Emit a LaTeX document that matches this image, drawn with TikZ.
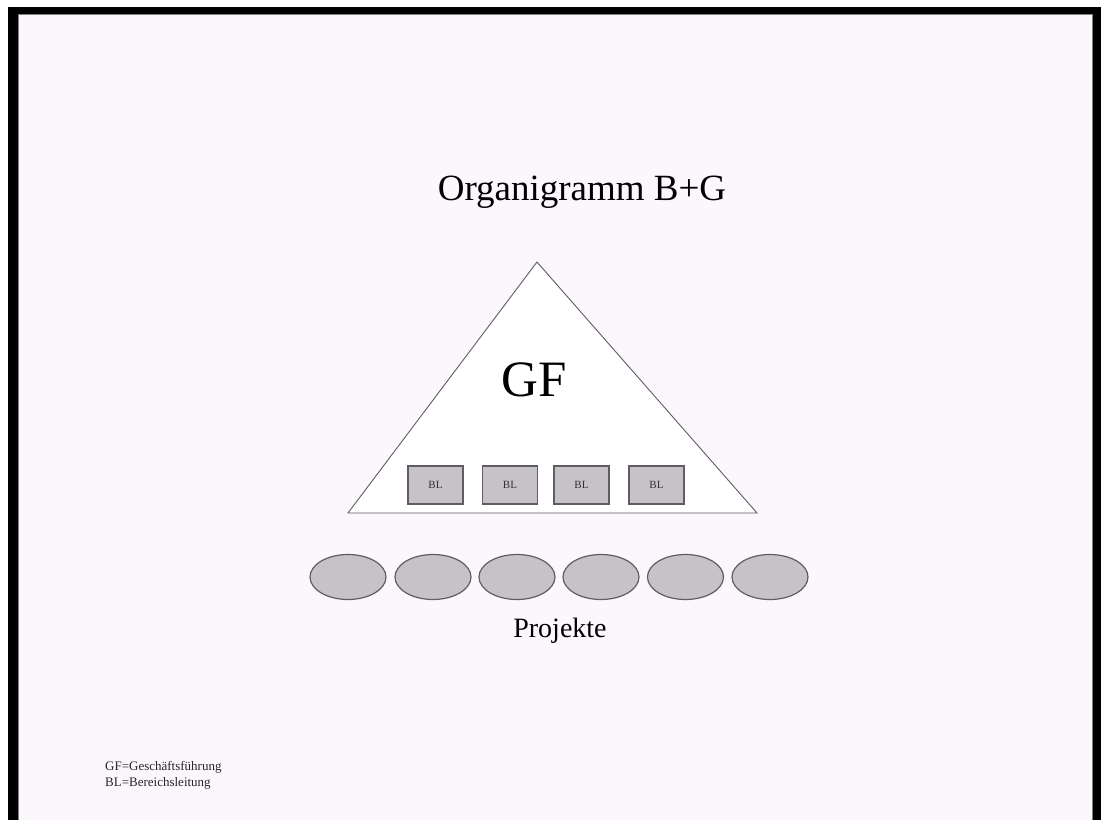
\documentclass[tikz,border=0pt]{standalone}
\usepackage{fontspec}
\setmainfont{Liberation Serif}
\usetikzlibrary{positioning, shapes.geometric}
\definecolor{slidepink}{RGB}{252,247,252}
\definecolor{boxgray}{RGB}{198,194,200}
\definecolor{edgegray}{RGB}{95,92,98}

\begin{document}
\begin{tikzpicture}[x=1pt, y=-1pt]
  \useasboundingbox (0,0) rectangle (1101,820);
  % Slide frame
  \fill[white] (0,0) rectangle (1101,820);
  \fill[black] (8,7) rectangle (1101,820);
  \fill[slidepink] (18,14) rectangle (1093,820);
  \draw[gray, line width=0.8pt] (18.5,820) -- (18.5,14.5) -- (1092.5,14.5) -- (1092.5,820);

  % Title
  \node[anchor=base, font=\fontsize{37}{44}\selectfont] (title) at (582,200) {Organigramm B+G};

  % Pyramid
  \coordinate (apex) at (537,262);
  \coordinate (baseL) at (348,513);
  \coordinate (baseR) at (757,513);
  \draw[edgegray, line width=0.9pt, fill=white] (apex) -- (baseR) -- (baseL) -- cycle;
  \node[anchor=base, font=\fontsize{51}{60}\selectfont] (gf) at (534,396) {GF};

  % Bereichsleitungen
  \node[draw=edgegray, line width=1.2pt, fill=boxgray, minimum width=55pt, minimum height=38pt, inner sep=0pt, font=\fontsize{11}{13}\selectfont\color{black!80}] (bl1) at (435.5,485) {BL};
  \node[draw=edgegray, line width=1.2pt, fill=boxgray, minimum width=55pt, minimum height=38pt, inner sep=0pt, font=\fontsize{11}{13}\selectfont\color{black!80}] (bl2) at (510,485) {BL};
  \node[draw=edgegray, line width=1.2pt, fill=boxgray, minimum width=55pt, minimum height=38pt, inner sep=0pt, font=\fontsize{11}{13}\selectfont\color{black!80}] (bl3) at (581.5,485) {BL};
  \node[draw=edgegray, line width=1.2pt, fill=boxgray, minimum width=55pt, minimum height=38pt, inner sep=0pt, font=\fontsize{11}{13}\selectfont\color{black!80}] (bl4) at (656.5,485) {BL};

  % Projekte
  \node[draw=edgegray, line width=1.2pt, fill=boxgray, ellipse, minimum width=76pt, minimum height=45pt, inner sep=0pt] (p1) at (348,577) {};
  \node[draw=edgegray, line width=1.2pt, fill=boxgray, ellipse, minimum width=76pt, minimum height=45pt, inner sep=0pt] (p2) at (433,577) {};
  \node[draw=edgegray, line width=1.2pt, fill=boxgray, ellipse, minimum width=76pt, minimum height=45pt, inner sep=0pt] (p3) at (517,577) {};
  \node[draw=edgegray, line width=1.2pt, fill=boxgray, ellipse, minimum width=76pt, minimum height=45pt, inner sep=0pt] (p4) at (601,577) {};
  \node[draw=edgegray, line width=1.2pt, fill=boxgray, ellipse, minimum width=76pt, minimum height=45pt, inner sep=0pt] (p5) at (685.5,577) {};
  \node[draw=edgegray, line width=1.2pt, fill=boxgray, ellipse, minimum width=76pt, minimum height=45pt, inner sep=0pt] (p6) at (770,577) {};
  \node[anchor=base, font=\fontsize{28}{34}\selectfont] (projekte) at (560,637) {Projekte};

  % Legende
  \node[anchor=base west, align=left, inner sep=0pt, font=\fontsize{13}{16}\selectfont\color{black!85}] (legend) at (105,786) {GF=Geschäftsführung\\BL=Bereichsleitung};
\end{tikzpicture}
\end{document}
